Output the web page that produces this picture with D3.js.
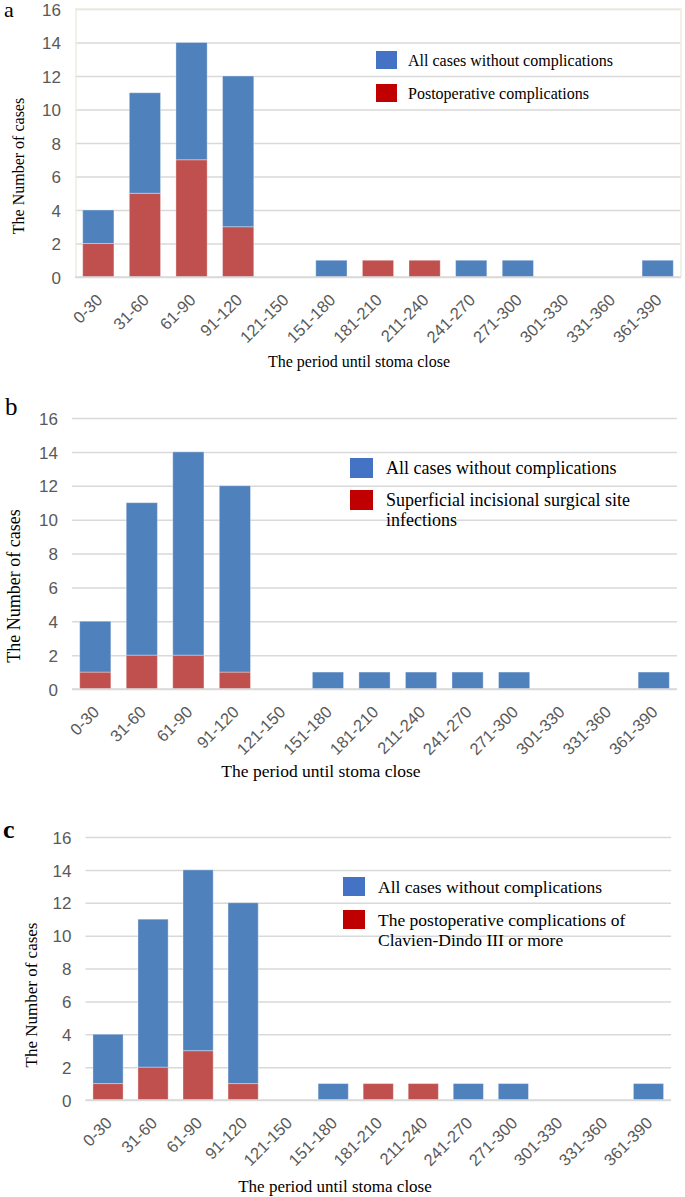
<!DOCTYPE html>
<html>
<head>
<meta charset="utf-8">
<script src="https://cdn.jsdelivr.net/npm/d3@7"></script>
<style>
  body { margin: 0; background: #fff; }
  svg { display: block; }
  .tick text { font-family: "Liberation Sans", Arial, sans-serif; fill: #595959; }
  .serif { font-family: "Liberation Serif", "Times New Roman", serif; fill: #000; }
</style>
</head>
<body>
<svg width="685" height="1197"></svg>
<script>
const categories = ["0-30", "31-60", "61-90", "91-120", "121-150", "151-180", "181-210",
  "211-240", "241-270", "271-300", "301-330", "331-360", "361-390"];
const totalCases = [4, 11, 14, 12, 0, 1, 1, 1, 1, 1, 0, 0, 1];
const postopComplications = [2, 5, 7, 3, 0, 0, 1, 1, 0, 0, 0, 0, 0];
const ssiInfections = [1, 2, 2, 1, 0, 0, 0, 0, 0, 0, 0, 0, 0];
const clavienDindo = [1, 2, 3, 1, 0, 0, 1, 1, 0, 0, 0, 0, 0];
const yTicks = [0, 2, 4, 6, 8, 10, 12, 14, 16];

const blue = "#4f81bd", red = "#c0504d";
const legendBlue = "#4472c4", legendRed = "#c00000";

const svg = d3.select("svg");

// layout of each panel
const panels = [
  { letter: "a", letterX: 4, letterY: 17, letterSize: 22, bold: false,
    comp: postopComplications, legend: [["Postoperative complications"]],
    left: 75, right: 681, top: 9, bottom: 277, border: true,
    ytX: 24, ytY: 166, ytSize: 16, xtX: 359, xtY: 367, xtSize: 16,
    lgX: 376, lgY: 51, lgW: 21, lgH: 18, lgTx: 408, lgSize: 16, lgStep: 33, lineH: 20 },
  { letter: "b", letterX: 5, letterY: 415, letterSize: 25, bold: false,
    comp: ssiInfections, legend: [["Superficial incisional surgical site", "infections"]],
    left: 72, right: 677, top: 418, bottom: 689, border: false,
    ytX: 20, ytY: 586, ytSize: 18, xtX: 321, xtY: 777, xtSize: 17.5,
    lgX: 350, lgY: 458, lgW: 23, lgH: 20, lgTx: 386, lgSize: 18, lgStep: 32, lineH: 20 },
  { letter: "c", letterX: 3, letterY: 838, letterSize: 26, bold: true,
    comp: clavienDindo, legend: [["The postoperative complications of", "Clavien-Dindo III  or more"]],
    left: 85.5, right: 671, top: 837, bottom: 1100, border: false,
    ytX: 37, ytY: 995, ytSize: 17, xtX: 335, xtY: 1192, xtSize: 17,
    lgX: 343, lgY: 877, lgW: 22, lgH: 19, lgTx: 378, lgSize: 17.5, lgStep: 33, lineH: 20 }
];

panels.forEach(p => {
  const g = svg.append("g");

  const x = d3.scaleBand()
    .domain(categories)
    .range([p.left, p.right])
    .paddingInner(0.33)
    .paddingOuter(0.165);

  const y = d3.scaleLinear().domain([0, 16]).range([p.bottom, p.top]);

  // gridlines
  g.append("g")
    .attr("transform", `translate(${p.left},0)`)
    .call(d3.axisLeft(y).tickValues(yTicks).tickSize(-(p.right - p.left)).tickFormat(""))
    .call(a => a.select(".domain").remove())
    .call(a => a.selectAll("line").attr("stroke", "#d9d9d9").attr("stroke-width", 1.5));

  if (p.border) {
    g.append("path")
      .attr("d", `M${p.left + 1},${p.bottom}V${p.top}H${p.right}V${p.bottom}`)
      .attr("fill", "none")
      .attr("stroke", "#eeebdf")
      .attr("stroke-width", 1.5);
  }

  // y tick labels
  g.append("g")
    .attr("transform", `translate(${p.left - 14},0)`)
    .call(d3.axisLeft(y).tickValues(yTicks).tickSize(0).tickPadding(0))
    .call(a => a.select(".domain").remove())
    .call(a => a.selectAll("text").style("font-size", "17px").attr("dy", "0.36em"));

  // stacked bars
  const rows = categories.map((c, i) => ({ cat: c, comp: p.comp[i], rest: totalCases[i] - p.comp[i] }));
  const stacked = d3.stack().keys(["comp", "rest"])(rows);
  const colors = { comp: red, rest: blue };

  g.append("g")
    .selectAll("g")
    .data(stacked)
    .join("g")
    .attr("fill", d => colors[d.key])
    .selectAll("rect")
    .data(d => d.filter(s => s[1] > s[0]))
    .join("rect")
    .attr("x", d => x(d.data.cat))
    .attr("width", x.bandwidth())
    .attr("y", d => y(d[1]))
    .attr("height", d => y(d[0]) - y(d[1]))
    .attr("stroke", "#fff")
    .attr("stroke-opacity", 0.35)
    .attr("stroke-width", 1);

  // x axis
  const xAxis = g.append("g")
    .attr("transform", `translate(0,${p.bottom})`)
    .call(d3.axisBottom(x).tickSize(0).tickPadding(0));
  xAxis.select(".domain").attr("stroke", "#d9d9d9").attr("stroke-width", 1.5)
    .attr("d", `M${p.left},0H${p.right}`);
  xAxis.selectAll("text")
    .style("font-size", "16.5px")
    .attr("text-anchor", "end")
    .attr("y", 0)
    .attr("dy", "0.35em")
    .attr("transform", "translate(1,20) rotate(-45)");

  // panel letter
  svg.append("text")
    .attr("class", "serif")
    .attr("x", p.letterX)
    .attr("y", p.letterY)
    .style("font-size", p.letterSize + "px")
    .style("font-weight", p.bold ? "bold" : "normal")
    .text(p.letter);

  // axis titles
  svg.append("text")
    .attr("class", "serif")
    .attr("transform", `translate(${p.ytX},${p.ytY}) rotate(-90)`)
    .attr("text-anchor", "middle")
    .style("font-size", p.ytSize + "px")
    .text("The Number of cases");

  svg.append("text")
    .attr("class", "serif")
    .attr("x", p.xtX)
    .attr("y", p.xtY)
    .attr("text-anchor", "middle")
    .style("font-size", p.xtSize + "px")
    .text("The period until stoma close");

  // legend
  const items = [
    { color: legendBlue, lines: ["All cases without complications"] },
    { color: legendRed, lines: p.legend[0] }
  ];
  items.forEach((it, i) => {
    const ly = p.lgY + i * p.lgStep;
    svg.append("rect")
      .attr("x", p.lgX).attr("y", ly)
      .attr("width", p.lgW).attr("height", p.lgH)
      .attr("fill", it.color);
    const t = svg.append("text")
      .attr("class", "serif")
      .attr("x", p.lgTx)
      .attr("y", ly + p.lgH * 0.5)
      .style("font-size", p.lgSize + "px");
    it.lines.forEach((line, j) => {
      t.append("tspan")
        .attr("x", p.lgTx)
        .attr("dy", j === 0 ? "0.35em" : p.lineH)
        .text(line);
    });
  });
});
</script>
</body>
</html>
